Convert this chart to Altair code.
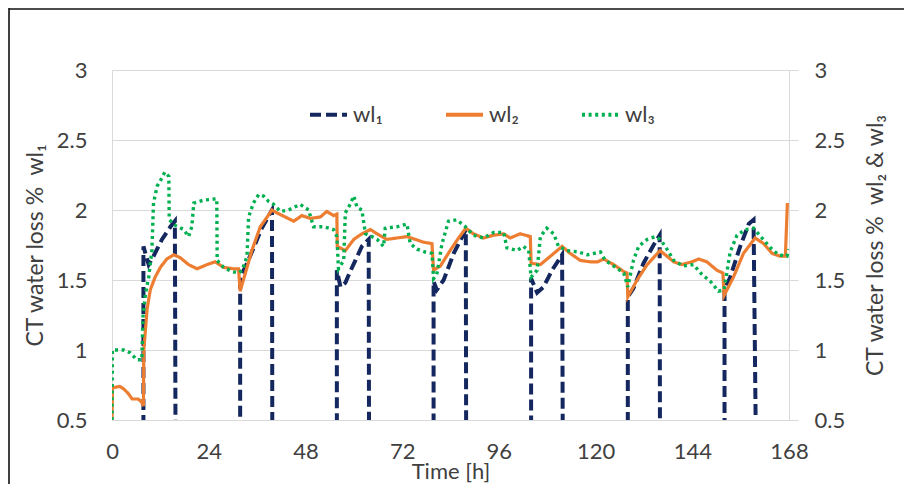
import altair as alt
import pandas as pd

# ---------------- data ----------------
series_names = ["wl₁", "wl₂", "wl₃"]
colors = ["#14285f", "#ED7D31", "#00B050"]
dashes = [[11, 5], [1, 0], [3, 3.6]]
x_ticks = [0, 24, 48, 72, 96, 120, 144, 168]
y_ticks = [0.5, 1, 1.5, 2, 2.5, 3]

t1 = [7.8, 7.8, 9.1, 10.3, 12.4, 14.5, 15.6, 15.8,
      31.8, 31.8, 33.2, 35.0, 37.0, 39.7, 39.8,
      55.8, 55.8, 56.7, 57.9, 59.1, 60.4, 62.0, 63.7, 63.8,
      79.8, 79.8, 80.6, 82.3, 84.8, 87.8, 87.9,
      104.0, 104.0, 105.5, 107.1, 109.2, 111.7, 111.9,
      128.0, 128.0, 129.4, 131.9, 134.4, 135.9, 136.0,
      152.0, 152.0, 153.4, 155.9, 158.0, 159.2, 159.9]
wl1 = [0.0, 1.74, 1.61, 1.67, 1.79, 1.88, 1.92, 0.0,
       0.0, 1.52, 1.60, 1.72, 1.86, 2.00, 0.0,
       0.0, 1.57, 1.45, 1.48, 1.56, 1.64, 1.74, 1.79, 0.0,
       0.0, 1.49, 1.43, 1.50, 1.69, 1.86, 0.0,
       0.0, 1.51, 1.41, 1.45, 1.57, 1.68, 0.0,
       0.0, 1.38, 1.44, 1.62, 1.75, 1.82, 0.0,
       0.0, 1.43, 1.52, 1.74, 1.90, 1.93, 0.0]

t2 = [0.0, 0.1, 1.9, 3.0, 4.0, 5.0, 6.5, 7.3, 7.8, 7.9, 8.7, 9.5, 10.7, 12.0,
      13.6, 15.3, 16.9, 19.0, 21.1, 23.6, 25.6, 27.7, 30.2, 31.4, 31.8, 33.1,
      34.7, 36.8, 38.5, 39.7, 40.9, 43.0, 45.1, 47.1, 49.2, 51.7, 53.3, 55.0,
      55.8, 55.9, 57.9, 60.0, 62.0, 64.1, 65.8, 68.2, 70.7, 73.2, 75.3, 77.3,
      79.4, 79.8, 81.5, 83.9, 86.0, 87.8, 89.7, 92.2, 94.7, 97.2, 98.8, 101.3,
      103.8, 104.0, 106.3, 108.8, 111.7, 113.7, 116.2, 118.7, 120.5, 122.0,
      124.5, 127.0, 127.8, 128.0, 130.3, 132.8, 136.0, 139.4, 141.4, 143.9,
      145.6, 147.6, 150.1, 151.6, 151.9, 154.2, 156.7, 159.6, 161.7, 163.8,
      165.8, 167.1, 167.6]
wl2 = [0.50, 0.73, 0.74, 0.72, 0.69, 0.65, 0.65, 0.63, 0.60, 1.00, 1.29, 1.43,
       1.52, 1.59, 1.65, 1.68, 1.66, 1.61, 1.58, 1.61, 1.63, 1.59, 1.58, 1.58,
       1.42, 1.55, 1.71, 1.88, 1.95, 2.00, 1.98, 1.95, 1.92, 1.96, 1.94, 1.95,
       1.99, 1.96, 1.97, 1.74, 1.71, 1.79, 1.83, 1.86, 1.83, 1.79, 1.80, 1.81,
       1.79, 1.77, 1.76, 1.57, 1.60, 1.71, 1.80, 1.87, 1.83, 1.80, 1.82, 1.83,
       1.80, 1.83, 1.81, 1.62, 1.61, 1.67, 1.74, 1.69, 1.64, 1.63, 1.63, 1.65,
       1.61, 1.56, 1.55, 1.38, 1.50, 1.61, 1.71, 1.63, 1.61, 1.63, 1.65, 1.63,
       1.57, 1.55, 1.39, 1.52, 1.69, 1.80, 1.76, 1.69, 1.67, 1.67, 2.05]

t3 = [0.0, 0.1, 2.9, 4.5, 6.2, 7.4, 7.7, 8.3, 9.1, 9.9, 10.3, 11.2, 12.4, 13.1,
      14.1, 14.2, 15.7, 17.8, 19.0, 19.8, 20.3, 22.7, 26.0, 26.1, 27.7, 29.8,
      31.4, 32.3, 33.5, 33.9, 35.1, 36.4, 37.6, 38.9, 40.1, 41.8, 43.8, 46.7,
      48.8, 50.0, 52.5, 55.0, 55.8, 56.2, 57.5, 57.9, 59.1, 60.0, 60.8, 62.0,
      62.9, 64.5, 65.8, 67.4, 67.8, 70.7, 73.2, 74.0, 75.7, 77.7, 79.4, 79.8,
      80.6, 81.9, 83.5, 85.6, 87.7, 89.7, 92.2, 94.7, 97.2, 98.0, 100.5, 102.1,
      103.4, 104.0, 105.5, 106.3, 107.9, 109.6, 110.8, 112.9, 115.8, 117.9,
      121.2, 122.4, 124.5, 127.0, 128.0, 129.4, 130.7, 132.8, 134.8, 136.0,
      137.3, 139.4, 141.8, 144.3, 146.4, 148.5, 150.5, 151.9, 153.4, 155.1,
      157.2, 159.2, 161.3, 163.4, 165.4, 167.5, 168.0]
wl3 = [0.50, 1.00, 1.00, 0.98, 0.93, 0.93, 1.24, 1.40, 1.52, 1.71, 2.05, 2.17,
       2.23, 2.27, 2.24, 1.93, 1.89, 1.86, 1.81, 1.88, 2.05, 2.07, 2.08, 1.64,
       1.59, 1.56, 1.55, 1.57, 1.67, 1.95, 2.05, 2.11, 2.10, 2.06, 2.04, 1.99,
       2.00, 2.04, 2.00, 1.88, 1.88, 1.86, 1.81, 1.58, 1.64, 1.98, 2.04, 2.10,
       2.02, 2.00, 1.83, 1.81, 1.79, 1.74, 1.87, 1.88, 1.90, 1.76, 1.72, 1.70,
       1.69, 1.51, 1.54, 1.76, 1.92, 1.93, 1.88, 1.82, 1.80, 1.84, 1.84, 1.73,
       1.71, 1.74, 1.71, 1.52, 1.57, 1.81, 1.87, 1.83, 1.74, 1.71, 1.70, 1.68,
       1.70, 1.64, 1.60, 1.55, 1.45, 1.64, 1.74, 1.79, 1.81, 1.79, 1.74, 1.64,
       1.60, 1.61, 1.54, 1.49, 1.42, 1.43, 1.70, 1.82, 1.86, 1.87, 1.80, 1.73,
       1.68, 1.67, 1.72]

# ---------------- table ----------------
rows = []
for name, ts, vs in zip(series_names, [t1, t2, t3], [wl1, wl2, wl3]):
    for i, (t, v) in enumerate(zip(ts, vs)):
        rows.append({"series": name, "i": i, "t": t, "v": v})
df = pd.DataFrame(rows)

FONT = "Lato"
TXT = "#404040"
GRID = "#d9d9d9"
NB = "\u00a0"

x_enc = alt.X(
    "t:Q",
    scale=alt.Scale(domain=[0, 168], nice=False, zero=False),
    axis=alt.Axis(values=x_ticks, title="Time [h]", grid=False, ticks=False,
                  domainColor=GRID, labelPadding=21, labelFlush=False,
                  titleY=58, titleBaseline="alphabetic", titleFontSize=22),
)

legend = alt.Legend(title=None, orient="none", legendX=196, legendY=24,
                    direction="horizontal", symbolType="stroke",
                    symbolSize=1369, symbolStrokeWidth=4, labelFontSize=22,
                    labelFont=FONT, labelColor=TXT, columnPadding=55,
                    labelOffset=4, padding=0)

color_enc = alt.Color("series:N", scale=alt.Scale(domain=series_names, range=colors),
                      legend=legend)
dash_enc = alt.StrokeDash("series:N", scale=alt.Scale(domain=series_names, range=dashes),
                          legend=legend)

y_left = alt.Y(
    "v:Q",
    scale=alt.Scale(domain=[0.5, 3], nice=False, zero=False),
    axis=alt.Axis(orient="left", values=y_ticks, format=".1~f",
                  title=f"CT water loss %{NB}{NB}wl₁", grid=True, gridColor=GRID,
                  ticks=False, domainColor=GRID, labelPadding=25,
                  labelFlush=False,
                  titleX=-70, titleY=175, titleAngle=270,
                  titleBaseline="alphabetic"),
)
y_right = alt.Y(
    "v:Q",
    scale=alt.Scale(domain=[0.5, 3], nice=False, zero=False),
    axis=alt.Axis(orient="right", values=y_ticks, format=".1~f",
                  title=f"CT water loss %{NB}{NB}wl₂ & wl₃", grid=False,
                  ticks=True, tickSize=9, tickColor=GRID, domainColor=GRID,
                  labelPadding=16, labelFlush=False,
                  titleX=93, titleY=175, titleAngle=270,
                  titleBaseline="alphabetic"),
)

base = alt.Chart(df)

frame_df = pd.DataFrame({"a": [0]})
frame_top = alt.Chart(frame_df).mark_rule(
    stroke="#111111", strokeWidth=1.6
).encode(x=alt.value(-103), x2=alt.value(900), y=alt.value(-61))
frame_left = alt.Chart(frame_df).mark_rule(
    stroke="#111111", strokeWidth=1.6
).encode(x=alt.value(-103), y=alt.value(-62), y2=alt.value(600))

line1 = base.transform_filter(alt.datum.series == series_names[0]).mark_line(
    clip=True, strokeWidth=4
).encode(x=x_enc, y=y_left, color=color_enc, strokeDash=dash_enc, order="i:Q")

line2 = base.transform_filter(alt.datum.series == series_names[1]).mark_line(
    clip=True, strokeWidth=3.2
).encode(x=x_enc, y=y_right, color=color_enc, strokeDash=dash_enc, order="i:Q")

line3 = base.transform_filter(alt.datum.series == series_names[2]).mark_line(
    clip=True, strokeWidth=3.4
).encode(x=x_enc, y=y_right, color=color_enc, strokeDash=dash_enc, order="i:Q")

chart = alt.layer(
    frame_top, frame_left, line1, alt.layer(line2, line3)
).resolve_scale(y="independent").properties(
    width=677, height=350,
    autosize=alt.AutoSizeParams(type="none"),
    padding={"left": 104, "top": 62, "right": 115, "bottom": 64},
    background="white",
).configure_axis(
    labelFont=FONT, labelFontSize=22, labelColor=TXT,
    titleFont=FONT, titleFontSize=23, titleColor=TXT, titleFontWeight="normal",
).configure_view(stroke=None)

chart.save("out.html", embed_options={"renderer": "svg", "actions": False})
